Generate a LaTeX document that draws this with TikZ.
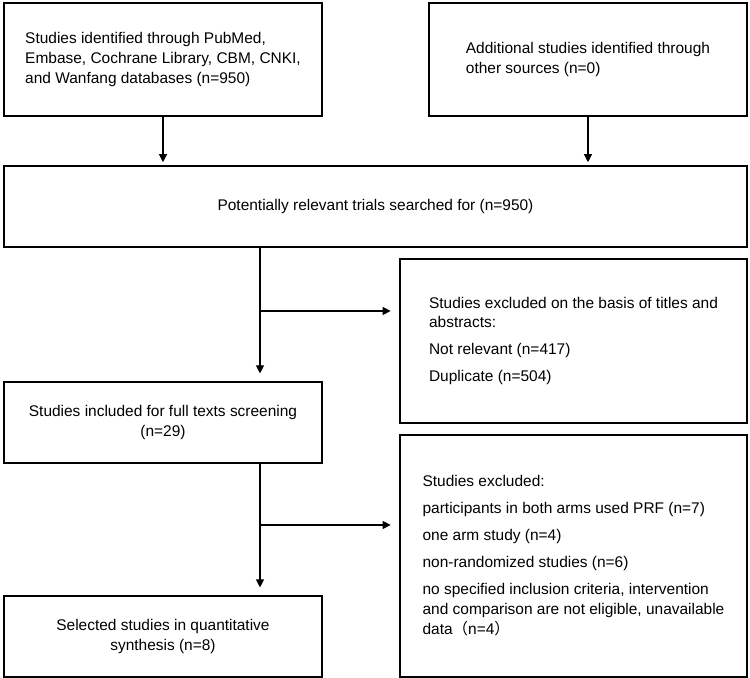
\documentclass[tikz,border=0pt]{standalone}
\usepackage{fontspec}
\setmainfont{Liberation Sans}
\newfontfamily\cjk{Noto Sans CJK SC}
\usetikzlibrary{arrows.meta}

\begin{document}
\begin{tikzpicture}[
  box/.style={draw, line width=0.8pt, minimum width=7.95cm, minimum height=2.025cm,
    align=center, font=\fontsize{11}{14.2}\selectfont},
  flow/.style={line width=0.8pt, -{Triangle[length=0.2cm,width=0.2cm]}}
]
  \useasboundingbox (0,0) rectangle (18.75,16.95);
  % identificazione
  \node[box, minimum height=2.825cm, align=left] (ident) at (4.075,15.4625)
    {Studies identified through PubMed,\\Embase, Cochrane Library, CBM, CNKI,\\and Wanfang databases (n=950)};
  \node[box, minimum height=2.825cm, align=left] (other) at (14.7,15.4625)
    {Additional studies identified through\\other sources (n=0)};
  \node[box, minimum width=18.575cm] (search) at (9.3875,11.7875)
    {Potentially relevant trials searched for (n=950)};
  % screening
  \node[box, minimum width=8.675cm, minimum height=4.1cm, align=left] (excl1) at (14.3375,8.425)
    {Studies excluded on the basis of titles and\\abstracts:\\[5pt]Not relevant (n=417)\\[5pt]Duplicate (n=504)};
  \node[box] (full) at (4.075,6.3875)
    {Studies included for full texts screening\\(n=29)};
  \node[box, minimum width=8.675cm, minimum height=6.05cm, align=left] (excl2) at (14.3375,3.05)
    {Studies excluded:\\[5pt]participants in both arms used PRF (n=7)\\[5pt]one arm study (n=4)\\[5pt]non-randomized studies (n=6)\\[5pt]no specified inclusion criteria, intervention\\and comparison are not eligible, unavailable\\data{\cjk （}n=4{\cjk ）}};
  \node[box] (sel) at (4.075,1.0375)
    {Selected studies in quantitative\\synthesis (n=8)};

  \coordinate (split1) at (6.5,9.175);
  \coordinate (split2) at (6.5,3.825);

  \draw[flow, shorten >=0.08cm] (ident.south) -- (ident.south |- search.north);
  \draw[flow, shorten >=0.08cm] (other.south) -- (other.south |- search.north);
  \draw[flow, shorten >=0.2cm] (search.south -| split1) -- (full.north -| split1);
  \draw[flow, shorten >=0.22cm] (split1) -- (split1 -| excl1.west);
  \draw[flow, shorten >=0.2cm] (full.south -| split2) -- (sel.north -| split2);
  \draw[flow, shorten >=0.22cm] (split2) -- (split2 -| excl2.west);
\end{tikzpicture}
\end{document}
